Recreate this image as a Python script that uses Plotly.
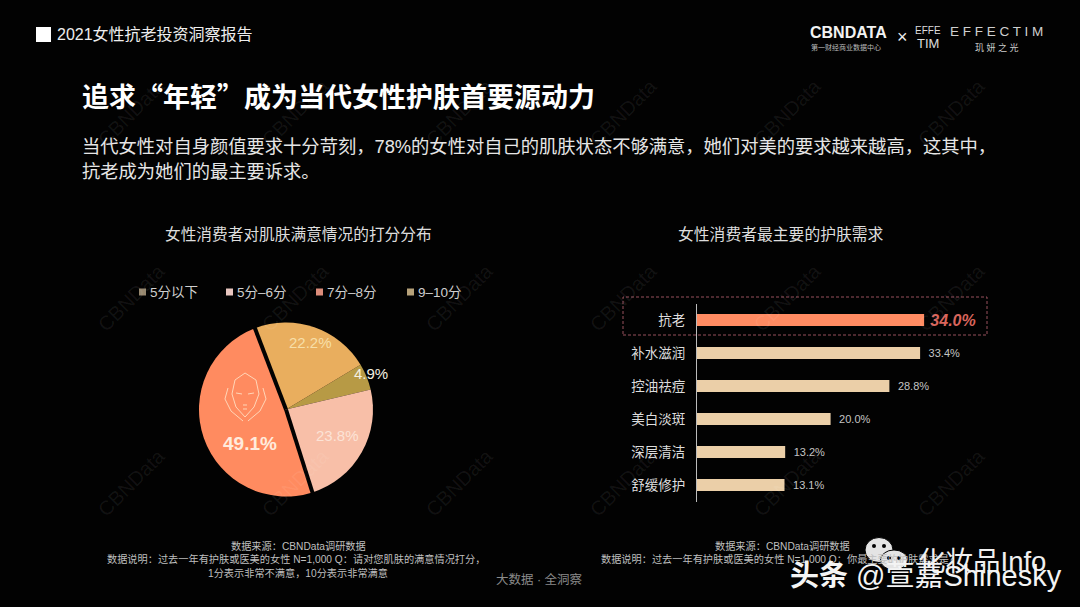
import numpy as np
import plotly.graph_objects as go

W, H = 1080, 607
BG = '#020202'
FONT = 'Liberation Sans, Noto Sans CJK SC, sans-serif'
CJK = 'Noto Sans CJK SC, sans-serif'

# pie data
score_labels = ['5分以下', '5分–6分', '7分–8分', '9–10分']
score_values = [4.9, 23.8, 49.1, 22.2]
score_colors = ['#B79A45', '#F8BFA8', '#FF8B60', '#E9AE5E']
legend_colors = ['#96876E', '#E8C6C0', '#DC8C7A', '#B7A27A']
legend_x = [139, 226, 316, 407]

# bar data
need_labels = ['抗老', '补水滋润', '控油祛痘', '美白淡斑', '深层清洁', '舒缓修护']
need_values = [34.0, 33.4, 28.8, 20.0, 13.2, 13.1]


def px(x):
    return x / W


def py(y):
    return 1 - y / H


def note(x, y, text, size=12, color='#DDDDDD', anchor='center', family=FONT, **kw):
    if anchor == 'left':
        x -= 2  # annotation box padding
    return dict(x=px(x), y=py(y), xref='paper', yref='paper', text=text, showarrow=False,
                xanchor=anchor, yanchor='middle', font=dict(size=size, color=color, family=family), **kw)


fig = go.Figure()

rotation = 59
pie_cx, pie_cy, pie_r = 286, 409.5, 87

fig.add_trace(go.Pie(
    labels=score_labels,
    values=score_values,
    sort=False,
    direction='clockwise',
    rotation=rotation,
    textinfo='none',
    showlegend=False,
    marker=dict(colors=score_colors, line=dict(width=0)),
    domain=dict(x=[px(pie_cx - pie_r), px(pie_cx + pie_r)], y=[py(pie_cy + pie_r), py(pie_cy - pie_r)]),
    hoverinfo='label+percent',
))

bar_colors = ['#FF8B62'] + ['#EBCFA8'] * 5
text_colors = ['#D9655C'] + ['#C4C4C4'] * 5
text_sizes = [16] + [11] * 5

fig.add_trace(go.Bar(
    x=need_values,
    y=need_labels,
    orientation='h',
    width=0.36,
    marker=dict(color=bar_colors, line=dict(width=0)),
    text=['\u2009<b><i>%.1f%%</i></b>' % need_values[0]] + ['\u2002%.1f%%' % v for v in need_values[1:]],
    textposition='outside',
    constraintext='none',
    textfont=dict(color=text_colors, size=text_sizes, family=FONT),
    cliponaxis=False,
    showlegend=False,
    hoverinfo='skip',
))

# thick black cut on both sides of the biggest slice
cum = np.cumsum(score_values)
shapes = []
for share in (cum[1], cum[2]):
    ang = np.radians(rotation + share * 3.6)
    shapes.append(dict(type='line', xref='paper', yref='paper',
                       x0=px(pie_cx), y0=py(pie_cy),
                       x1=px(pie_cx + (pie_r + 3) * np.sin(ang)), y1=py(pie_cy - (pie_r + 3) * np.cos(ang)),
                       line=dict(color=BG, width=4)))

# header square
shapes.append(dict(type='rect', xref='paper', yref='paper', x0=px(36), x1=px(51), y0=py(42), y1=py(27),
                   fillcolor='white', line=dict(width=0)))
# dashed highlight box
shapes.append(dict(type='rect', xref='paper', yref='paper', x0=px(623), x1=px(987), y0=py(335), y1=py(297),
                   line=dict(color='#97505C', width=1, dash='3px,2px')))

# pie legend squares
for lx, col in zip(legend_x, legend_colors):
    shapes.append(dict(type='rect', xref='paper', yref='paper', x0=px(lx), x1=px(lx + 7), y0=py(295.5), y1=py(288.5),
                       fillcolor=col, line=dict(width=0)))


def path(points, close=False):
    s = 'M' + ' L'.join('%.4f,%.4f' % (px(a), py(b)) for a, b in points)
    return s + (' Z' if close else '')


# face icon on the big slice
face_line = dict(color='#FFD6B8', width=1)
icon = [
    [(245, 373), (235, 380), (232, 394), (236, 407), (245, 417), (254, 407), (259, 394), (256, 380)],
    [(228, 388), (225, 399), (231, 411), (243, 421)],
    [(263, 388), (266, 399), (260, 411), (248, 421)],
    [(236, 393), (242, 394)],
    [(248, 394), (254, 393)],
    [(243, 405), (247, 405)],
    [(243, 409), (247, 409)],
]
for i, pts in enumerate(icon):
    shapes.append(dict(type='path', xref='paper', yref='paper', path=path(pts, i == 0), line=face_line))

# wechat icon of the repost mark
for cx, cy, rx, ry in [(879, 550, 14, 12.5), (894, 560, 13.5, 10)]:
    shapes.append(dict(type='circle', xref='paper', yref='paper',
                       x0=px(cx - rx), x1=px(cx + rx), y0=py(cy + ry), y1=py(cy - ry),
                       fillcolor='#E4E4E4', line=dict(color=BG, width=1)))
for cx, cy in [(874, 546), (884, 546), (889, 558), (899, 558)]:
    shapes.append(dict(type='circle', xref='paper', yref='paper',
                       x0=px(cx - 2), x1=px(cx + 2), y0=py(cy + 2), y1=py(cy - 2),
                       fillcolor=BG, line=dict(width=0)))

notes = []
# background watermark
for wy in (113, 298, 483):
    for wx in (131, 295, 459, 623, 787, 951):
        notes.append(note(wx, wy, 'CBNData', size=20, color='rgba(255,255,255,0.07)', textangle=-45))

notes += [
    note(57, 34, '2021女性抗老投资洞察报告', size=16, color='#EEEEEE', anchor='left'),
    note(82, 96, '<b>追求“年轻”成为当代女性护肤首要源动力</b>', size=27, color='white', anchor='left', family=CJK),
    note(82, 147, '当代女性对自身颜值要求十分苛刻，78%的女性对自己的肌肤状态不够满意，她们对美的要求越来越高，这其中，',
         size=18.3, color='#E6E6E6', anchor='left'),
    note(82, 171, '抗老成为她们的最主要诉求。', size=18.3, color='#E6E6E6', anchor='left'),
    note(298.5, 234, '女性消费者对肌肤满意情况的打分分布', size=15.7, color='#DDDDDD'),
    note(780.5, 234, '女性消费者最主要的护肤需求', size=15.8, color='#DDDDDD'),
    # pie labels
    note(310, 342, '%.1f%%' % score_values[3], size=15, color='#F7DFA8'),
    note(371, 373, '%.1f%%' % score_values[0], size=15, color='#F4F0E0'),
    note(337, 435, '%.1f%%' % score_values[1], size=15, color='#FCE3D6'),
    note(250, 443, '<b>%.1f%%</b>' % score_values[2], size=19, color='#FFEBDD'),
    # logos
    note(810, 33, '<b>CBNDATA</b>', size=16, color='#F2F2F2', anchor='left'),
    note(811, 47, '第一财经商业数据中心', size=7, color='#BBBBBB', anchor='left'),
    note(902, 37, '×', size=18, color='#EEEEEE'),
    note(928, 30, 'EFFE', size=10, color='#DDDDDD'),
    note(928, 43, 'TIM', size=13, color='#DDDDDD'),
    note(950, 32, 'E F F E C T I M', size=13.5, color='#CFCFCF', anchor='left'),
    note(997, 47, '玑 妍 之 光', size=9, color='#CCCCCC'),
    # sources
    note(298, 546, '数据来源：CBNData调研数据', size=10.2, color='#BFBFBF'),
    note(296, 559, '数据说明：过去一年有护肤或医美的女性 N=1,000 Q：请对您肌肤的满意情况打分，', size=10.2, color='#BFBFBF'),
    note(298, 573, '1分表示非常不满意，10分表示非常满意', size=10.2, color='#BFBFBF'),
    note(782, 546, '数据来源：CBNData调研数据', size=10.2, color='#BFBFBF'),
    note(601, 559, '数据说明：过去一年有护肤或医美的女性 N=1,000 Q：你最主要的护肤需求是？', size=10.2, color='#BFBFBF', anchor='left'),
    note(539, 579, '大数据 · 全洞察', size=12.5, color='#8A8A8A'),
    # repost mark
    note(918, 561, '化妆品Info', size=27.5, color='#F0F0F0', anchor='left'),
    note(790, 576, '<b>头条</b> @萱嘉Shinesky', size=29, color='#F4F4F4', anchor='left'),
]
# legend labels drawn next to their squares
for lx, lab in zip(legend_x, score_labels):
    notes.append(note(lx + 11, 292, lab, size=13.5, color='#CFCFCF', anchor='left'))

fig.update_layout(
    width=W,
    height=H,
    margin=dict(l=0, r=0, t=0, b=0),
    paper_bgcolor=BG,
    plot_bgcolor=BG,
    font=dict(family=FONT, color='#DDDDDD'),
    shapes=shapes,
    annotations=notes,
    xaxis=dict(domain=[px(697), px(1000)], range=[0, 303 / 6.68], visible=False),
    yaxis=dict(domain=[py(501.5), py(303.5)], range=[5.5, -0.5], type='category',
               showline=True, linecolor='#BBBBBB', linewidth=1, showgrid=False,
               ticks='outside', ticklen=8, tickcolor='rgba(0,0,0,0)',
               tickfont=dict(size=13.5, color='#DDDDDD', family=FONT)),
)

fig.write_html('out.html', config=dict(displayModeBar=False),
               post_script="document.body.style.margin='0';document.body.style.background='#020202';")
